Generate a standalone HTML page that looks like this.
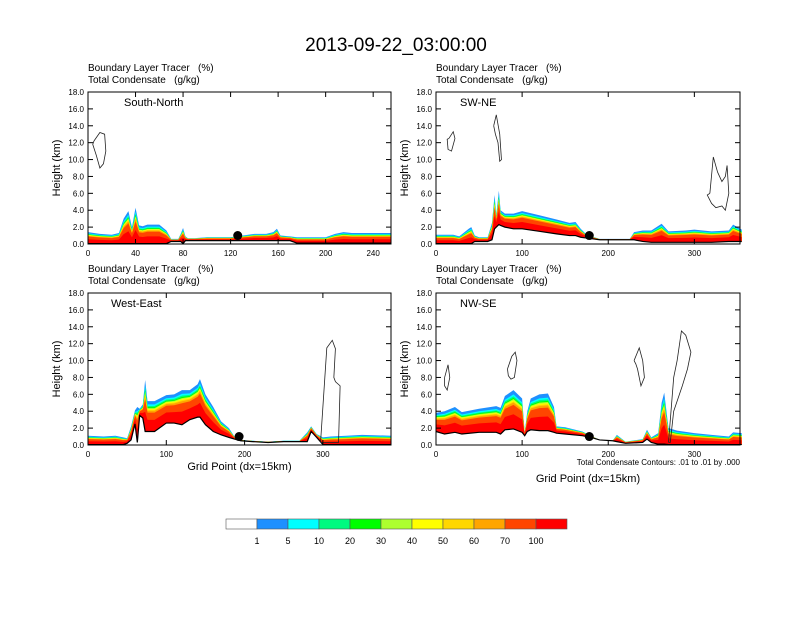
<!DOCTYPE html>
<html><head><meta charset="utf-8"><style>
body{margin:0;background:#fff;font-family:"Liberation Sans",Arial,sans-serif}
svg text{font-family:"Liberation Sans",Arial,sans-serif;white-space:pre}
</style></head><body>
<svg id="fig" width="792" height="612" xmlns="http://www.w3.org/2000/svg">
<rect width="792" height="612" fill="#fff"/>
<text x="396" y="51" font-size="19" text-anchor="middle">2013-09-22_03:00:00</text>
<g id="panels"></g>
<g id="colorbar"></g>
</svg>
<script>
const NS="http://www.w3.org/2000/svg";
const bandLevels=["1","5","10","20","30","40","50","60","70","100"];
const bandColors=["#fff","#1e90ff","#00ffff","#00fa80","#00ff00","#adff2f","#ffff00","#ffd700","#ffa500","#ff4500","#ff0000"];
const fractions=[1,0.89,0.84,0.8,0.77,0.74,0.71,0.68,0.62,0.38];

// Panel 1 South-North
const p1x=[0,10,20,26,30,34,37,40,43,46,50,60,66,70,76,78,80,82,84,90,100,120,140,150,156,159,162,170,176,190,200,208,215,222,240,255];
const p1h=[1.4,1.2,1.1,1.3,3.0,3.9,2.0,4.3,2.2,2.1,2.3,2.3,1.6,0.6,0.6,1.2,1.9,0.9,0.7,0.7,0.8,0.8,1.2,1.2,1.4,1.8,1.0,0.9,0.8,0.8,0.8,1.2,1.4,1.3,1.3,1.3];
const p1t=[0.05,0.05,0.05,0.05,0.05,0.05,0.05,0.05,0.05,0.05,0.05,0.05,0.05,0.3,0.3,0.3,0.05,0.4,0.4,0.4,0.4,0.4,0.4,0.4,0.4,0.4,0.4,0.4,0.1,0.1,0.1,0.1,0.1,0.1,0.1,0.1];
// Panel 2 SW-NE
const p2x=[0,20,27,38,41,45,50,60,65,68,70,73,75,80,90,100,120,140,155,162,168,175,190,210,225,230,240,250,262,270,290,300,320,340,345,355];
const p2h=[1.1,1.1,0.9,1.8,2.0,1.0,0.8,0.8,2.5,5.8,3.5,6.3,4.0,3.6,3.6,3.9,3.4,2.9,2.5,2.6,1.8,1.1,0.6,0.6,0.6,1.4,1.6,1.6,2.4,1.5,1.6,1.7,1.5,1.6,2.3,1.7];
const p2t=[0.05,0.05,0.05,0.05,0.05,0.3,0.3,0.3,0.5,1.8,2.0,2.3,2.2,2.0,1.8,1.8,1.5,1.2,1.0,1.0,0.8,0.7,0.5,0.5,0.5,0.5,0.3,0.2,0.2,0.2,0.2,0.2,0.2,0.3,0.3,0.3];
// Panel 3 West-East
const p3x=[0,20,35,45,50,55,60,63,66,70,73,76,85,100,110,120,130,140,143,150,160,170,180,187,195,210,230,250,270,280,285,292,300,310,330,350,387];
const p3h=[1.1,1.0,1.1,0.9,0.8,2.2,4.1,4.5,4.3,4.8,7.7,5.2,5.2,5.9,6.0,6.5,6.5,7.2,7.8,6.0,4.5,2.8,2.0,1.0,0.6,0.5,0.4,0.5,0.5,1.5,2.2,1.3,0.9,1.0,1.1,1.2,1.1];
const p3t=[0.05,0.05,0.05,0.05,0.2,0.6,2.5,0.3,3.5,3.2,1.6,1.6,1.6,2.6,2.6,2.4,3.0,3.3,3.3,2.4,1.6,1.2,0.9,0.7,0.5,0.4,0.3,0.4,0.4,0.4,1.6,0.9,0.05,0.05,0.05,0.05,0.05];
// Panel 4 NW-SE
const p4x=[0,10,22,30,50,70,75,80,90,100,103,106,110,120,130,137,140,150,170,180,190,205,210,220,240,245,250,258,262,265,270,280,300,320,340,345,355];
const p4h=[3.8,4.0,4.5,3.9,4.3,4.6,4.4,5.8,6.5,5.5,1.5,4.0,5.5,6.0,6.1,4.5,2.2,2.1,1.6,1.1,0.6,0.5,1.2,0.4,0.7,1.8,0.9,1.4,5.0,6.2,2.0,1.7,1.4,1.2,1.0,1.5,1.4];
const p4t=[1.6,1.3,1.5,1.3,1.5,1.5,1.3,1.8,1.9,1.5,1.1,1.6,1.8,1.7,1.7,1.5,1.4,1.3,1.1,0.9,0.6,0.5,0.4,0.2,0.3,0.7,0.3,0.1,0.1,0.1,0.05,0.05,0.05,0.05,0.05,0.05,0.05];

// contour loops (grid point, km)
const c1a_x=[5,10,14,15,13,10,7,4,5];const c1a_y=[12.2,13.2,13,11,9.5,9,10.5,11.8,12.2];
const c2a_x=[15,20,22,18,14,13,15];const c2a_y=[12.5,13.3,12.5,11,11.2,12.4,12.5];
const c2b_x=[67,70,74,76,74,72,69,67];const c2b_y=[14,15.3,13,10,9.8,12,13,14];
const c2c_x=[318,322,327,332,336,338,340,336,332,325,320,315,318];const c2c_y=[6,10.3,8.5,7.4,8,9.3,6,4,4.5,4.3,4.8,5.8,6];
const c3a_x=[297,305,312,316,314,316,322,320,318,297,297];const c3a_y=[0.3,11.5,12.4,11.4,8,7.5,7,0.3,0.3,0.3,0.3];
const c4a_x=[270,276,280,285,290,296,292,286,276,272,270];const c4a_y=[0.3,8,10,13.5,13,11,9,7,4,0.3,0.3];
const c4b_x=[230,236,240,242,238,234,232,230];const c4b_y=[10,11.5,10,8,7,9,9.6,10];
const c4c_x=[83,88,92,94,91,87,84,83];const c4c_y=[9,10.5,11,10,8,7.8,8.2,9];
const c4d_x=[10,14,16,13,10,10];const c4d_y=[8,9.5,8,6.5,7,8];

const panels=[
 {name:"south-north",label:"South-North",x0:88,y0:92,w:303,h:152,xmax:255,ticks:[0,40,80,120,160,200,240],xs:p1x,hs:p1h,ts:p1t,dot:126,dotH:1.0,contours:[[c1a_x,c1a_y]],xlabel:false},
 {name:"sw-ne",label:"SW-NE",x0:436,y0:92,w:304,h:152,xmax:353,ticks:[0,100,200,300],xs:p2x,hs:p2h,ts:p2t,dot:178,dotH:1.0,contours:[[c2a_x,c2a_y],[c2b_x,c2b_y],[c2c_x,c2c_y]],xlabel:false},
 {name:"west-east",label:"West-East",x0:88,y0:293,w:303,h:152,xmax:387,ticks:[0,100,200,300],xs:p3x,hs:p3h,ts:p3t,dot:193,dotH:1.0,contours:[[c3a_x,c3a_y]],xlabel:true},
 {name:"nw-se",label:"NW-SE",x0:436,y0:293,w:304,h:152,xmax:353,ticks:[0,100,200,300],xs:p4x,hs:p4h,ts:p4t,dot:178,dotH:1.0,contours:[[c4a_x,c4a_y],[c4b_x,c4b_y],[c4c_x,c4c_y],[c4d_x,c4d_y]],xlabel:true,note:true}
];
function el(tag,attrs,parent){const e=document.createElementNS(NS,tag);for(const k in attrs)e.setAttribute(k,attrs[k]);parent.appendChild(e);return e;}
const root=document.getElementById('panels');
panels.forEach(p=>{
 const g=el('g',{},root);
 
 
 const sx=v=>p.x0+v/p.xmax*p.w, sy=v=>p.y0+p.h-v/18*p.h;
 const t1=el('text',{x:p.x0,y:p.y0-21,'font-size':10},g);t1.textContent="Boundary Layer Tracer   (%)";
 
 const t2=el('text',{x:p.x0,y:p.y0-9,'font-size':10},g);t2.textContent="Total Condensate   (g/kg)";
 
 fractions.forEach((f,k)=>{
  let pts=[];
  p.xs.forEach((x,i)=>pts.push(sx(x)+','+sy(p.ts[i]+(p.hs[i]-p.ts[i])*f)));
  for(let i=p.xs.length-1;i>=0;i--)pts.push(sx(p.xs[i])+','+sy(p.ts[i]));
  const poly=el('polygon',{points:pts.join(' '),fill:bandColors[k+1]},g);
  
  
 });
 const tl=el('polyline',{points:p.xs.map((x,i)=>sx(x)+','+sy(p.ts[i])).join(' '),fill:'none',stroke:'#000','stroke-width':1.2},g);
 
 p.contours.forEach(c=>{
  const cl=el('polyline',{points:c[0].map((x,i)=>sx(x)+','+sy(c[1][i])).join(' '),fill:'none',stroke:'#222','stroke-width':0.8},g);
  
 });
 const d=el('circle',{cx:sx(p.dot),cy:sy(p.dotH),r:4.5,fill:'#000'},g);
 
 const fr=el('rect',{x:p.x0,y:p.y0,width:p.w,height:p.h,fill:'none',stroke:'#000','stroke-width':1},g);
 
 for(let v=0;v<=18;v+=2){
  el('line',{x1:p.x0,x2:p.x0+5,y1:sy(v),y2:sy(v),stroke:'#000'},g);
  el('line',{x1:p.x0+p.w,x2:p.x0+p.w-5,y1:sy(v),y2:sy(v),stroke:'#000'},g);
  const t=el('text',{x:p.x0-4,y:sy(v)+3,'font-size':8,'text-anchor':'end'},g);t.textContent=v.toFixed(1);
  
 }
 p.ticks.forEach(v=>{
  el('line',{x1:sx(v),x2:sx(v),y1:p.y0+p.h,y2:p.y0+p.h-5,stroke:'#000'},g);
  el('line',{x1:sx(v),x2:sx(v),y1:p.y0,y2:p.y0+5,stroke:'#000'},g);
  const t=el('text',{x:sx(v),y:p.y0+p.h+12,'font-size':8,'text-anchor':'middle'},g);t.textContent=v;
  
 });
 const yl=el('text',{x:0,y:0,'font-size':11,'text-anchor':'middle',transform:`translate(${p.x0-28},${p.y0+p.h/2}) rotate(-90)`},g);yl.textContent="Height (km)";
 
 const lb=el('text',{x:p.x0+(p.name=='west-east'?23:p.name=='south-north'?36:24),y:p.y0+14,'font-size':11},g);lb.textContent=p.label;
 
 if(p.xlabel){const xl=el('text',{x:p.x0+p.w/2,y:p.note?482:470,'font-size':11,'text-anchor':'middle'},g);xl.textContent="Grid Point (dx=15km)";
  }
 if(p.note){const n=el('text',{x:p.x0+p.w,y:p.y0+p.h+20,'font-size':8,'text-anchor':'end'},g);n.textContent="Total Condensate Contours: .01 to .01 by .000";
  }
});
const cb=document.getElementById('colorbar');
const bw=31, bx=226, by=519;
bandColors.forEach((c,i)=>{
 const r=el('rect',{x:bx+i*bw,y:by,width:bw,height:10,fill:c,stroke:'#555','stroke-width':0.6},cb);
 
});
bandLevels.forEach((l,i)=>{
 const t=el('text',{x:bx+(i+1)*bw,y:by+25,'font-size':9,'text-anchor':'middle'},cb);t.textContent=l;
 
});
</script>
</body></html>
